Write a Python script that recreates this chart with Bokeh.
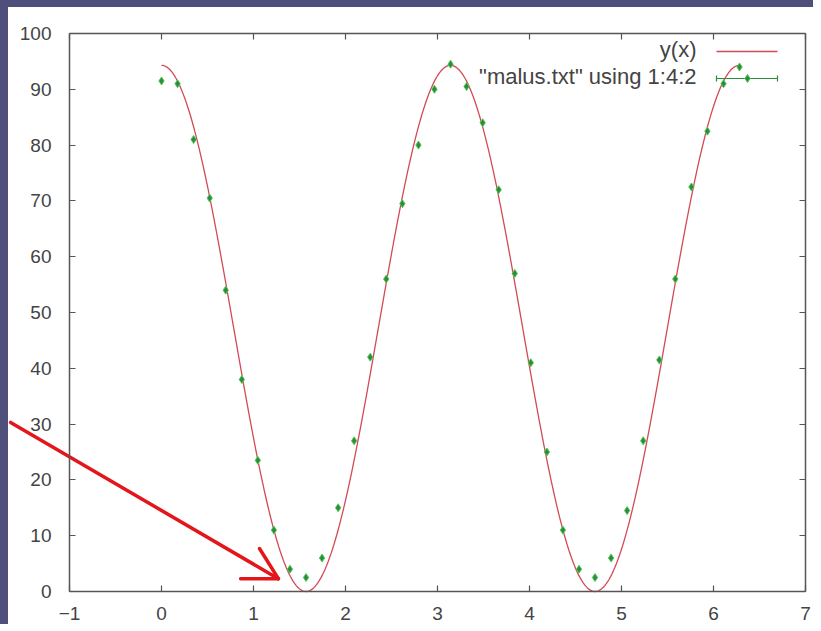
from bokeh.plotting import figure
from bokeh.models import Range1d, LinearAxis, Label
from bokeh.embed import file_html
from bokeh.resources import INLINE
import numpy as np

# ---- data ----
angle_rad = [0.000, 0.175, 0.349, 0.524, 0.698, 0.873, 1.047, 1.222, 1.396, 1.571,
             1.745, 1.920, 2.094, 2.269, 2.443, 2.618, 2.793, 2.967, 3.142, 3.316,
             3.491, 3.665, 3.840, 4.014, 4.189, 4.363, 4.538, 4.712, 4.887, 5.061,
             5.236, 5.411, 5.585, 5.760, 5.934, 6.109, 6.283]
intensity = [91.5, 91.0, 81.0, 70.5, 54.0, 38.0, 23.5, 11.0, 4.0, 2.5,
             6.0, 15.0, 27.0, 42.0, 56.0, 69.5, 80.0, 90.0, 94.5, 90.5,
             84.0, 72.0, 57.0, 41.0, 25.0, 11.0, 4.0, 2.5, 6.0, 14.5,
             27.0, 41.5, 56.0, 72.5, 82.5, 91.0, 94.0]
# fitted model y(x) = a * cos(x)^2 (Malus' law)
fit_a = 94.3
fit_x_start, fit_x_end = 0.0, 6.283

x_ticks = [-1, 0, 1, 2, 3, 4, 5, 6, 7]
y_ticks = [0, 10, 20, 30, 40, 50, 60, 70, 80, 90, 100]
legend_labels = ["y(x)", '"malus.txt" using 1:4:2']

# hand-drawn red arrow (data units)
arrow_tail = (-1.64, 30.3)
arrow_tip = (1.27, 2.3)
arrow_barb_upper = (1.065, 7.7)
arrow_barb_lower = (0.86, 2.3)

# ---- styling ----
BAND = "#4f4f7b"
AXIS = "#555555"
TEXT = "#444444"
RED = "#d24a55"
GREEN = "#2b8c3c"
FONT = "Liberation Sans"

X0, X1, Y0, Y1 = -1, 7, 0, 100
FL, FR, FT, FB = 69, 805, 33, 591   # axes box in window pixels
CL, CR, CT, CB = 8, 821, 7, 631     # drawable canvas in window pixels (inside bands)
XPX = (X1 - X0) / (FR - FL)
YPX = (Y1 - Y0) / (FB - FT)


def px(xp, yp):
    return (X0 + (xp - FL) * XPX, Y0 + (FB - yp) * YPX)


p = figure(width=CR - CL, height=CB - CT, output_backend="svg", toolbar_location=None,
           x_range=Range1d(X0 - (FL - CL) * XPX, X1 + (CR - FR) * XPX),
           y_range=Range1d(Y0 - (CB - FB) * YPX, Y1 + (FT - CT) * YPX),
           min_border=0, background_fill_color="white", border_fill_color="white")
p.styles = {"border-left": f"{CL}px solid {BAND}", "border-top": f"{CT}px solid {BAND}"}
p.grid.visible = False
p.outline_line_color = None


def style_axis(ax, labels=True):
    ax.axis_line_color = AXIS
    ax.axis_line_width = 1.5
    ax.major_tick_line_color = AXIS
    ax.major_tick_line_width = 1.2
    ax.major_tick_in = 6
    ax.major_tick_out = 0
    ax.minor_tick_line_color = None
    if labels:
        ax.major_label_text_font = FONT
        ax.major_label_text_font_size = "19px"
        ax.major_label_text_color = TEXT
    else:
        ax.major_label_text_color = None
        ax.major_label_text_font_size = "1px"
        ax.major_label_standoff = 0


xa = p.xaxis[0]
xa.ticker = x_ticks
xa.bounds = (X0, X1)
xa.fixed_location = Y0
style_axis(xa)
xa.major_label_standoff = 15

ya = p.yaxis[0]
ya.ticker = y_ticks
ya.bounds = (Y0, Y1)
ya.fixed_location = X0
style_axis(ya)
ya.major_label_standoff = 18

top = LinearAxis(ticker=x_ticks, bounds=(X0, X1), fixed_location=Y1)
style_axis(top, labels=False)
p.add_layout(top, "above")
right = LinearAxis(ticker=y_ticks, bounds=(Y0, Y1), fixed_location=X1)
style_axis(right, labels=False)
p.add_layout(right, "right")

# fitted curve
xs = np.linspace(fit_x_start, fit_x_end, 400)
p.line(xs, fit_a * np.cos(xs) ** 2, line_color=RED, line_width=1.3)

# data points
p.scatter(angle_rad, intensity, marker="diamond", size=8,
          fill_color=GREEN, line_color="#56c85a", line_width=1)

# legend (gnuplot style: text left, sample right)
tx, _ = px(696, 0)
_, t1 = px(0, 49)
_, t2 = px(0, 76)
_, r1 = px(0, 51)
_, r2 = px(0, 78)
for lbl, ty in zip(legend_labels, (t1, t2)):
    p.add_layout(Label(x=tx, y=ty, text=lbl, text_align="right", text_baseline="middle",
                       text_font=FONT, text_font_size="22px", text_color=TEXT))
sx0, _ = px(716, 0)
sx1, _ = px(777, 0)
gmid, _ = px(747, 0)
dy = 3 * YPX
p.line([sx0, sx1], [r1, r1], line_color=RED, line_width=1.3)
p.line([sx0, sx1], [r2, r2], line_color=GREEN, line_width=1.2)
p.segment([sx0, gmid, sx1], [r2 - dy] * 3, [sx0, gmid, sx1], [r2 + dy] * 3,
          line_color=GREEN, line_width=1.2)
p.scatter([gmid], [r2], marker="diamond", size=8, fill_color=GREEN,
          line_color="#56c85a", line_width=1)

# red hand-drawn arrow
for (xa_, ya_), (xb, yb) in ((arrow_tail, arrow_tip), (arrow_barb_upper, arrow_tip),
                             (arrow_barb_lower, arrow_tip)):
    p.line([xa_, xb], [ya_, yb], line_color="#e3161c", line_width=3.5, line_cap="round")

open("out.html", "w").write(file_html(p, INLINE))
